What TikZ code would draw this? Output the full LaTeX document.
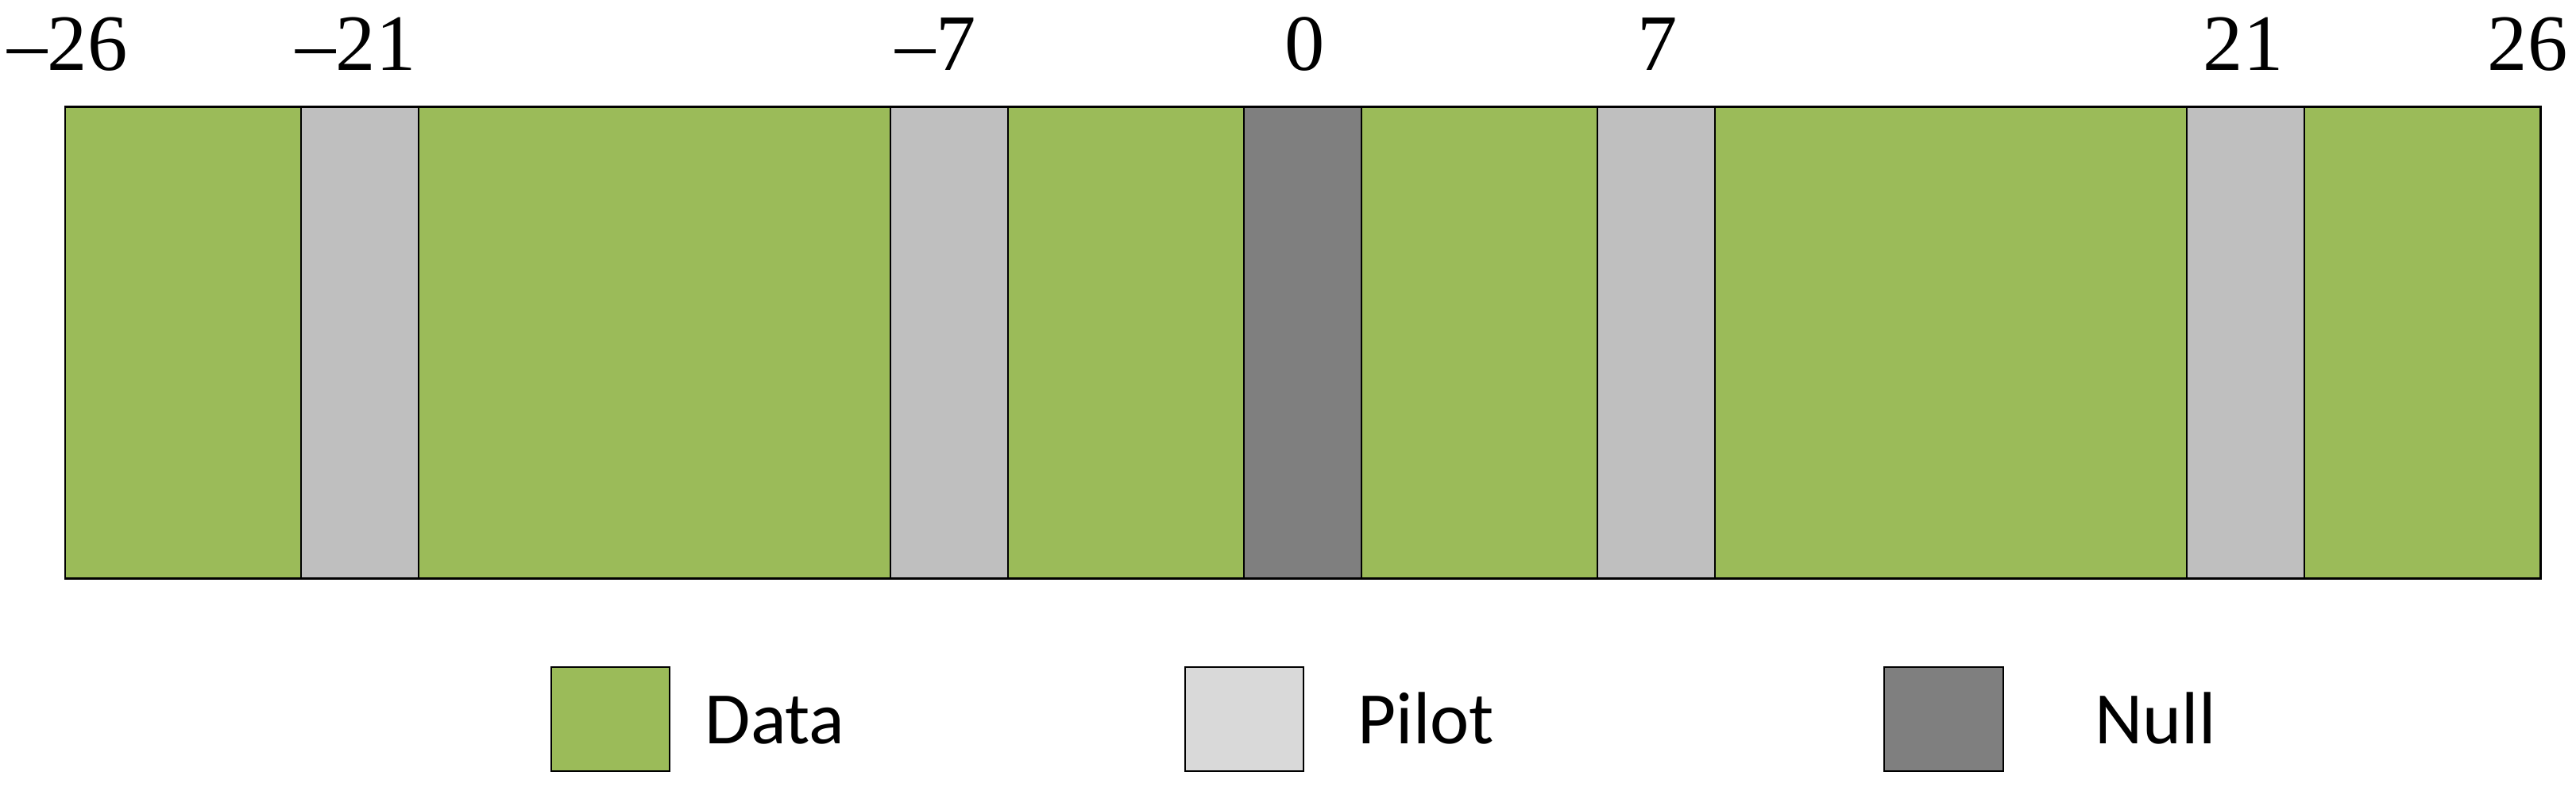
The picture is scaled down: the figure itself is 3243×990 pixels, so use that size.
\documentclass[tikz,border=0pt]{standalone}
\usepackage{fontspec}
\setmainfont{Liberation Serif}
\newfontfamily\legfont{Carlito}
\definecolor{datagreen}{HTML}{9BBB59}
\definecolor{pilotgray}{HTML}{BFBFBF}
\definecolor{pilotlight}{HTML}{D9D9D9}
\definecolor{nullgray}{HTML}{7F7F7F}
\begin{document}
\begin{tikzpicture}[x=0.01cm,y=-0.01cm,
  cellline/.style={draw=black,line width=0.55pt},
  frameline/.style={draw=black,line width=0.85pt},
  legbox/.style={draw=black,line width=0.65pt},
  idx/.style={anchor=base,inner sep=0pt,font=\fontsize{28.6}{30}\selectfont},
  legtext/.style={anchor=base west,inner sep=0pt,font=\legfont\fontsize{26.5}{28}\selectfont}]
\useasboundingbox (0,0) rectangle (3243,990);
\def\u{148.381}
% cells: start unit, end unit, colour
\foreach \a/\b/\c in {0/2/datagreen,2/3/pilotgray,3/7/datagreen,7/8/pilotgray,8/10/datagreen,10/11/nullgray,11/13/datagreen,13/14/pilotgray,14/18/datagreen,18/19/pilotgray,19/21/datagreen}{
  \path[fill=\c,cellline] ({82+\a*\u},134) rectangle ({82+\b*\u},728);
}
\draw[frameline] (82,134) rectangle (3198,728);
% index labels
\node[idx] (l1) at (85,88) {–26};
\node[idx] (l2) at (448,88) {–21};
\node[idx] (l3) at (1178,88) {–7};
\node[idx] (l4) at (1643,88) {0};
\node[idx] (l5) at (2087,88) {7};
\node[idx] (l6) at (2824,88) {21};
\node[idx] (l7) at (3182,88) {26};
% legend
\path[fill=datagreen,legbox] (694,840) rectangle (843,971);
\node[legtext] (ld) at (887,936) {Data};
\path[fill=pilotlight,legbox] (1492,840) rectangle (1641,971);
\node[legtext] (lp) at (1709,936) {Pilot};
\path[fill=nullgray,legbox] (2372,840) rectangle (2522,971);
\node[legtext] (ln) at (2637,936) {Null};
\end{tikzpicture}
\end{document}
